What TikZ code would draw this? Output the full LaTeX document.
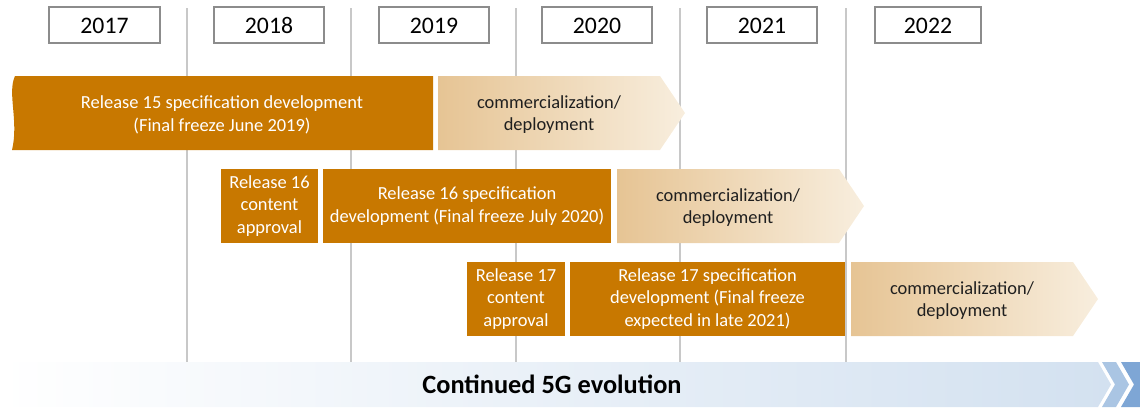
\documentclass[tikz,border=0pt]{standalone}
\usepackage{fontspec}
\setmainfont{Carlito}
\usepackage{tikz}
\definecolor{relorange}{RGB}{200,120,0}
\definecolor{commleft}{RGB}{230,196,148}
\definecolor{commright}{RGB}{248,238,222}
\definecolor{gridgray}{RGB}{200,200,200}
\definecolor{yeargray}{RGB}{140,140,140}
\definecolor{bandblue}{RGB}{211,225,240}
\definecolor{chevlight}{RGB}{170,197,227}
\definecolor{chevdark}{RGB}{126,166,213}

\begin{document}
\begin{tikzpicture}[x=0.02cm,y=-0.02cm,
    yearbox/.style={draw=yeargray, line width=0.6pt, fill=white, minimum height=0.72cm,
        inner sep=0pt, text height=9.5pt, text depth=0pt, font=\fontsize{13.5}{16}\selectfont},
    relbox/.style={fill=relorange, text=white, align=center, minimum height=1.48cm,
        inner sep=0pt, font=\fontsize{10.5}{13}\selectfont},
    commtext/.style={text=black!88, align=center, font=\fontsize{10.5}{13}\selectfont}]
    \useasboundingbox (0,0) rectangle (1140,407);
    % arrow shaped box, #1 = left end, #2 = top, tip 247 px further right
    \def\commarrow#1#2{\shade[left color=commleft, right color=commright]
        (#1,#2) -- ++(222,0) -- ++(25,37) -- ++(-25,37) -- ++(-222,0) -- cycle;}

    % grid lines of the years
    \foreach \gx in {187,351,516,680,846}
        \draw[gridgray, line width=0.6pt] (\gx,8) -- (\gx,362);

    % year labels
    \foreach \yr/\cx/\w in {2017/104.5/2.22cm, 2018/269/2.2cm, 2019/434/2.2cm,
                            2020/597/2.2cm, 2021/762/2.2cm, 2022/928/2.12cm}
        \node[yearbox, minimum width=\w] (y\yr) at (\cx,25) {\yr};

    % release 15
    \fill[relorange] (15,76) .. controls (7,93) and (19,121) .. (12,150)
        -- (433,150) -- (433,76) -- cycle;
    \node[relbox, fill=none] (r15spec) at (222,114.5)
        {Release 15 specification development\\(Final freeze June 2019)};
    \commarrow{438}{76}
    \node[commtext] (r15comm) at (549,114.5) {commercialization/\\deployment};

    % release 16
    \node[relbox, minimum width=1.94cm] (r16appr) at (269.5,206)
        {Release 16\\content\\approval};
    \node[relbox, minimum width=5.76cm] (r16spec) at (467,206)
        {Release 16 specification\\development (Final freeze July 2020)};
    \commarrow{617}{169}
    \node[commtext] (r16comm) at (728,207.5) {commercialization/\\deployment};

    % release 17
    \node[relbox, minimum width=1.96cm] (r17appr) at (516,299)
        {Release 17\\content\\approval};
    \node[relbox, minimum width=5.5cm] (r17spec) at (707.5,299)
        {Release 17 specification\\development (Final freeze\\expected in late 2021)};
    \commarrow{851}{262}
    \node[commtext] (r17comm) at (962,300.5) {commercialization/\\deployment};

    % evolution band
    \shade[left color=white, right color=bandblue]
        (0,362) -- (1098,362) -- (1111,384.5) -- (1098,407) -- (0,407) -- cycle;
    \fill[chevlight] (1102,362) -- (1116,362) -- (1129,384.5) -- (1116,407)
        -- (1102,407) -- (1115,384.5) -- cycle;
    \fill[chevdark] (1121,362) -- (1140,362) -- (1140,407) -- (1121,407)
        -- (1134,384.5) -- cycle;
    \node[font=\fontsize{15}{18}\selectfont\bfseries] (evo) at (552,384)
        {Continued 5G evolution};
\end{tikzpicture}
\end{document}
